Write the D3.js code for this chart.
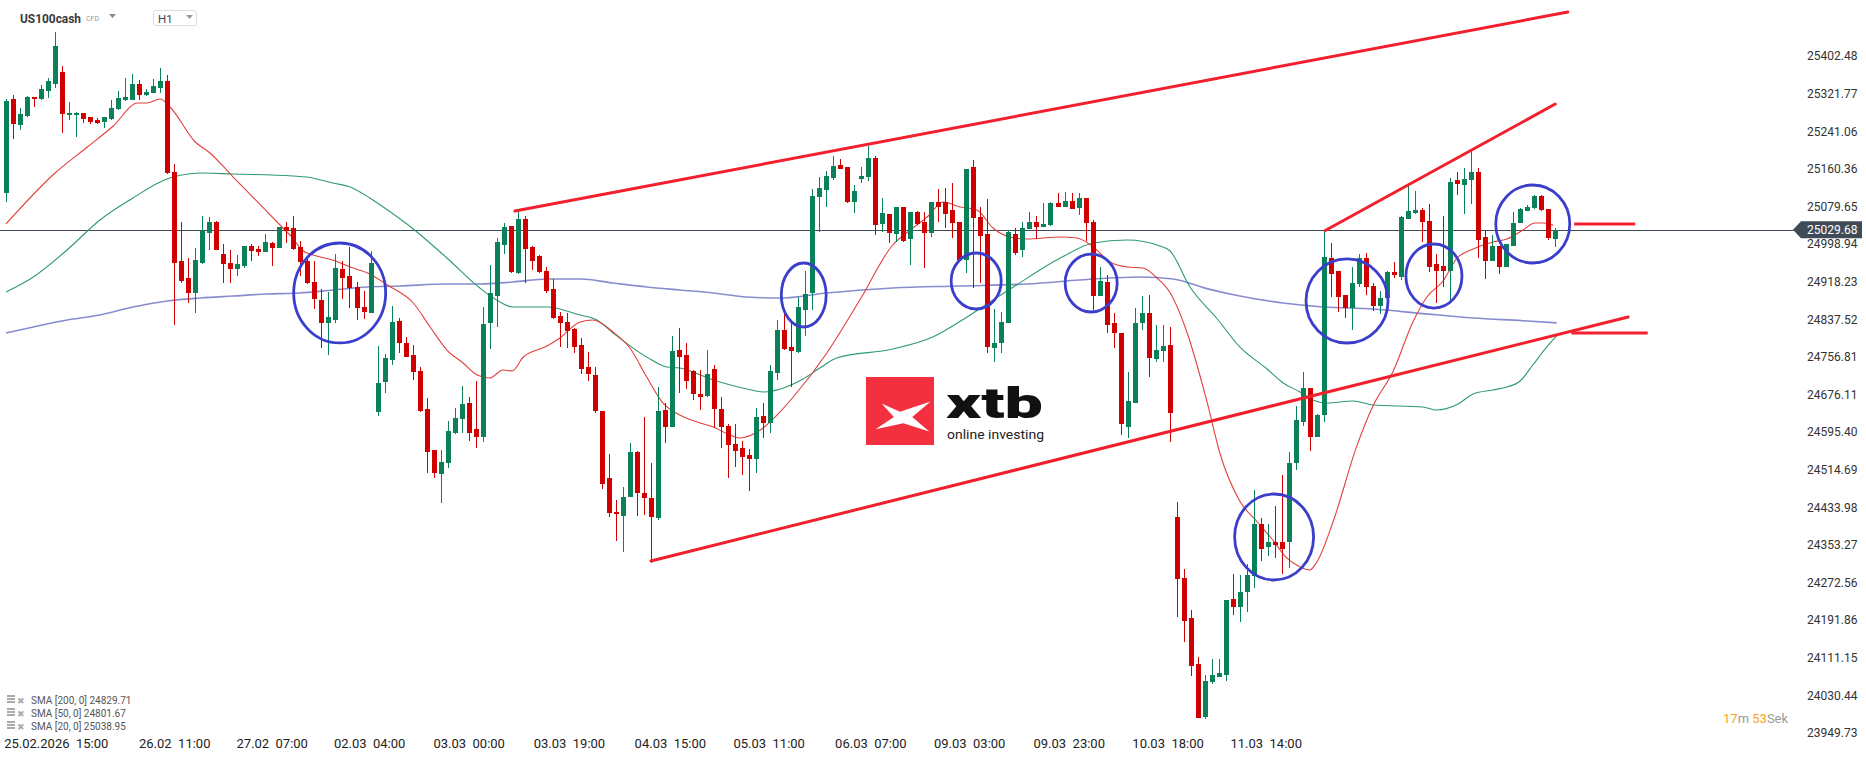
<!DOCTYPE html>
<html><head><meta charset="utf-8">
<script src="https://cdn.jsdelivr.net/npm/d3@7"></script>
<style>
html,body{margin:0;padding:0;background:#fff;overflow:hidden;}
svg{display:block;font-family:Roboto,"Noto Sans",sans-serif;}
</style></head><body>
<svg id="chart" width="1866" height="761"></svg>
<script>
// ---------- DATA ----------
const opens = [25108.4,25310.2,25254.4,25273.7,25314.5,25310.2,25327.4,25342.4,25368.2,25278.0,
25278.0,25280.1,25271.6,25265.1,25260.8,25267.3,25288.7,25308.0,25308.0,25342.4,
25318.8,25323.1,25333.8,25348.8,25153.5,24962.5,24926.0,24893.8,24958.2,25022.6,
25046.2,24977.5,24958.2,24945.3,24951.7,24994.7,24988.2,24981.8,25001.1,24990.4,
25035.4,25033.3,24992.5,24962.5,24917.4,24878.7,24829.4,24835.8,24945.3,24930.3,
24906.7,24863.7,24850.8,24638.3,24702.7,24750.0,24833.7,24786.5,24760.7,24726.3,
24644.8,24556.8,24505.3,24528.9,24593.3,24623.3,24657.7,24601.9,24584.7,24829.4,
24887.3,24996.8,25037.6,24936.7,25052.6,24992.5,24973.2,24941.0,24902.4,24844.4,
24831.5,24816.5,24782.2,24734.9,24717.7,24640.5,24496.7,24423.7,24415.1,24455.9,
24552.5,24464.5,24453.7,24410.8,24642.6,24606.1,24771.4,24760.7,24726.3,24677.0,
24672.7,24730.6,24644.8,24608.3,24569.7,24561.1,24546.0,24537.5,24629.8,24614.7,
24722.1,24814.4,24777.9,24767.1,24857.3,24893.8,25099.8,25114.9,25140.6,25168.5,
25164.2,25089.1,25138.5,25142.8,25183.6,25041.9,25063.3,25020.4,25078.4,25009.7,
25067.6,25046.2,25022.6,25089.1,25089.1,25071.9,25046.2,24964.6,25164.2,25056.9,
25020.4,24775.7,24786.5,24829.4,25020.4,24986.1,25031.2,25046.2,25035.4,25039.7,
25087.0,25078.4,25091.3,25076.2,25097.7,25046.2,24887.3,24917.4,24829.4,24807.9,
24606.1,24657.7,24829.4,24850.8,24752.1,24769.3,24782.2,24413.0,24281.0,24196.2,
24097.4,23984.5,24058.8,24069.5,24073.8,24236.9,24219.8,24252.8,24285.7,24397.9,
24348.6,24359.9,24359.9,24359.3,24528.9,24617.7,24690.5,24585.5,24631.9,24969.8,
24941.4,24890.1,24861.2,24913.1,24969.8,24908.8,24865.0,24884.1,24939.3,24928.6,
25052.6,25065.5,25070.9,25048.3,24956.9,24951.7,24940.9,25136.3,25125.6,25136.3,
25153.5,25014.2,24962.5,24995.1,24949.1,24995.1,25044.7,25069.2,25075.4,25102.2,
25073.6,25010.3];
const closes = [25305.9,25256.5,25278.0,25314.5,25310.2,25331.7,25348.8,25424.0,25278.0,25280.1,
25280.1,25267.3,25260.8,25258.7,25271.6,25290.9,25312.3,25314.5,25342.4,25318.8,
25325.2,25338.1,25348.8,25151.4,24958.2,24919.5,24893.8,24964.6,25026.9,25046.2,
24986.1,24956.0,24945.3,24956.0,24994.7,24983.9,24981.8,25003.2,24990.4,25035.4,
25026.9,24988.2,24960.3,24915.2,24880.9,24829.4,24842.3,24947.4,24926.0,24904.5,
24861.6,24853.0,24958.2,24700.6,24754.3,24831.5,24786.5,24756.4,24724.2,24640.5,
24552.5,24507.4,24531.0,24597.6,24625.5,24655.5,24593.3,24584.7,24827.2,24893.8,
25003.2,25035.4,24938.9,25052.6,24988.2,24962.5,24938.9,24898.1,24840.1,24829.4,
24812.2,24777.9,24730.6,24719.9,24640.5,24483.8,24421.5,24419.4,24455.9,24552.5,
24464.5,24453.7,24413.0,24640.5,24606.1,24769.3,24756.4,24704.9,24677.0,24670.5,
24719.9,24644.8,24606.1,24567.5,24554.6,24541.8,24537.5,24627.6,24614.7,24726.3,
24814.4,24773.6,24769.3,24863.7,24891.6,25102.0,25119.2,25144.9,25166.4,25159.9,
25089.1,25112.7,25144.9,25183.6,25039.7,25065.5,25022.6,25078.4,25005.4,25067.6,
25041.9,25022.6,25089.1,25078.4,25063.3,25044.0,24964.6,25159.9,25054.8,25016.1,
24777.9,24786.5,24831.5,25024.7,24979.6,25033.3,25046.2,25035.4,25041.9,25087.0,
25078.4,25091.3,25074.1,25097.7,25044.0,24887.3,24919.5,24825.1,24807.9,24612.6,
24662.0,24829.4,24850.8,24754.3,24771.4,24780.0,24636.2,24279.9,24189.7,24092.1,
23981.5,24061.4,24073.8,24078.1,24234.8,24219.8,24252.8,24288.5,24397.9,24344.3,
24359.9,24352.9,24344.3,24528.9,24620.1,24689.0,24585.5,24631.9,24972.1,24933.9,
24885.6,24862.6,24914.6,24969.8,24907.1,24865.0,24884.1,24939.3,24931.6,25056.3,
25069.2,25070.9,25046.2,24949.6,24941.6,24941.6,25132.0,25127.7,25138.5,25153.5,
25007.5,24962.5,24995.1,24949.1,24999.0,25044.7,25073.6,25079.2,25102.2,25071.5,
25012.7,25029.68];
const highs = [25310.2,25318.8,25290.9,25316.6,25314.5,25340.2,25355.3,25454.0,25381.0,25303.8,
25282.3,25280.1,25271.6,25269.4,25271.6,25308.0,25327.4,25355.3,25363.9,25351.0,
25331.7,25353.1,25376.7,25361.7,25170.7,25046.2,24968.9,24990.4,25059.1,25056.9,
25048.3,24999.0,24986.1,24975.3,24994.7,24999.0,24994.7,25020.4,25003.2,25035.4,
25046.2,25059.1,25005.4,24971.0,24962.5,24902.4,24895.9,24977.5,24962.5,24992.5,
24917.4,24898.1,24983.9,24780.0,24762.8,24865.9,24840.1,24799.3,24782.2,24734.9,
24668.4,24556.8,24556.8,24619.0,24646.9,24694.2,24670.5,24704.9,24863.7,24953.9,
25011.8,25044.0,25037.6,25071.9,25059.1,24994.7,24975.3,24949.6,24923.8,24853.0,
24850.8,24818.6,24797.2,24767.1,24734.9,24640.5,24548.2,24449.4,24477.4,24571.8,
24554.6,24627.6,24528.9,24692.0,24657.7,24801.5,24818.6,24786.5,24728.5,24728.5,
24771.4,24739.2,24670.5,24612.6,24612.6,24576.1,24558.9,24646.9,24657.7,24739.2,
24835.8,24853.0,24835.8,24885.2,24941.0,25117.0,25142.8,25155.6,25187.8,25181.4,
25164.2,25125.6,25164.2,25209.3,25187.8,25097.7,25063.3,25078.4,25078.4,25067.6,
25069.8,25067.6,25089.1,25117.0,25119.2,25129.9,25046.2,25159.9,25179.3,25078.4,
25095.5,24859.4,24853.0,25029.0,25033.3,25046.2,25067.6,25059.1,25087.0,25089.1,
25108.4,25110.6,25108.4,25108.4,25097.7,25050.5,24949.6,24932.4,24850.8,24807.9,
24724.2,24861.6,24887.3,24889.5,24825.1,24825.1,24820.8,24445.2,24301.3,24212.3,
24112.4,24074.5,24108.2,24109.0,24234.8,24290.6,24288.9,24312.1,24470.9,24410.8,
24397.9,24436.6,24503.1,24552.5,24651.2,24723.3,24690.5,24633.0,25027.9,25000.5,
24941.4,24890.1,24949.1,24977.5,24979.6,24914.6,24898.1,24941.6,24960.7,25060.1,
25125.6,25113.6,25076.2,25084.8,24977.5,25059.1,25140.6,25153.5,25162.1,25200.7,
25162.1,25029.4,25018.3,24995.1,24999.0,25067.6,25076.9,25083.1,25104.6,25104.6,
25073.6,25033.3];
const lows = [25089.1,25224.3,25243.7,25271.6,25293.0,25308.0,25312.3,25333.8,25237.2,25265.1,
25228.6,25258.7,25256.5,25256.5,25247.9,25265.1,25286.6,25305.9,25308.0,25308.0,
25316.6,25323.1,25323.1,25149.2,24825.1,24915.2,24872.3,24850.8,24956.0,24986.1,
24986.1,24915.2,24915.2,24930.3,24947.4,24962.5,24973.2,24981.8,24951.7,24990.4,
25001.1,24986.1,24930.3,24913.1,24859.4,24775.7,24760.7,24829.4,24880.9,24861.6,
24835.8,24838.0,24850.8,24629.8,24679.1,24739.2,24765.0,24756.4,24707.0,24638.3,
24507.4,24496.7,24443.0,24518.1,24591.1,24593.3,24576.1,24561.1,24573.9,24773.6,
24820.8,24977.5,24936.7,24934.6,24915.2,24943.1,24936.7,24893.8,24838.0,24777.9,
24775.7,24765.0,24719.9,24704.9,24636.2,24473.1,24413.0,24361.4,24337.8,24455.9,
24415.1,24417.3,24314.2,24406.5,24571.8,24606.1,24679.1,24687.7,24664.1,24642.6,
24670.5,24604.0,24561.1,24496.7,24520.3,24503.1,24468.8,24507.4,24582.5,24593.3,
24707.0,24771.4,24692.0,24765.0,24801.5,24857.3,25024.7,25078.4,25136.3,25159.9,
25087.0,25065.5,25129.9,25134.2,25018.3,25024.7,25001.1,25003.2,25003.2,24953.9,
25039.7,24947.4,25014.0,25046.2,25033.3,25011.8,24960.3,24936.7,24904.5,24915.2,
24765.0,24745.7,24765.0,24829.4,24975.3,24971.0,25031.2,25009.7,25035.4,25037.6,
25078.4,25078.4,25074.1,25061.2,25005.4,24857.3,24887.3,24807.9,24775.7,24589.0,
24582.5,24657.7,24814.4,24713.5,24745.7,24745.7,24573.9,24198.3,24145.7,24070.6,
23981.5,23979.4,24054.5,24069.5,24060.9,24202.6,24187.6,24209.0,24260.6,24317.9,
24329.2,24325.0,24291.0,24303.5,24513.8,24608.3,24554.6,24585.5,24617.7,24885.2,
24853.4,24839.7,24814.4,24907.1,24890.1,24855.1,24848.7,24884.1,24926.0,24922.5,
25052.6,25063.3,25002.6,24939.3,24872.5,24907.1,24872.3,25104.1,25063.3,25084.8,
24968.9,24923.8,24962.5,24933.9,24949.1,24995.1,25044.0,25069.2,25074.1,25069.2,
25008.0,24992.7];

const sma20Idx = [0,7.0,11.6,15.3,18.8,20.1,22.0,23.4,27.0,29.1,32.4,35.2,39.5,40.9,42.2,43.8,46.6,49.1,51.9,54.4,58.1,60.5,62.9,65.2,67.2,69.0,70.9,72.2,73.8,77.2,79.0,81.9,83.7,86.6,89.0,91.4,93.7,96.1,98.6,100.9,103.3,104.7,107.6,110.4,112.3,117.1,121.8,126.5,129.0,131.4,133.7,136.1,138.5,140.8,143.2,145.6,150.4,152.8,155.1,157.5,159.9,162.2,164.2,166.0,168.5,171.3,173.2,176.0,178.5,180.7,182.7,184.6,186.0,187.0,189.3,192.7,195.0,197.9,200.7,202.7,205.0,207.0,209.3,212.1,214.1,216.4,218.1,219.3,220.7];
const sma20Val = [25041.9,25151.3,25207.1,25252.2,25301.6,25301.6,25310.2,25293.0,25217.9,25194.3,25142.7,25099.8,25033.3,25011.8,24986.1,24975.3,24964.6,24949.6,24934.6,24911.0,24872.3,24820.8,24771.4,24743.6,24717.7,24711.3,24728.5,24726.3,24756.4,24780.0,24797.2,24831.5,24835.8,24810.1,24775.7,24713.5,24657.7,24631.9,24616.9,24606.1,24589.0,24582.5,24599.7,24638.3,24670.5,24765.0,24878.7,24996.8,25029.0,25056.9,25089.1,25078.4,25071.9,25033.3,25014.0,25009.7,25014.0,25011.8,24992.5,24960.3,24949.6,24947.4,24926.0,24895.9,24807.9,24662.0,24548.2,24447.3,24402.2,24363.6,24325.0,24305.6,24299.2,24316.4,24402.2,24565.5,24651.2,24726.3,24831.5,24885.2,24919.5,24968.9,24988.2,25003.2,25009.7,25029.0,25044.0,25044.0,25038.95];
const sma50Idx = [0,3.9,8.7,13.4,18.1,22.0,23.8,28.1,32.4,40.9,42.9,46.6,49.1,51.9,53.4,58.1,62.9,67.6,70.0,72.3,77.2,81.9,84.3,86.6,91.4,94.3,96.1,100.9,105.7,108.0,113.7,116.1,118.5,126.5,132.2,137.1,140.8,143.7,150.4,155.1,159.9,164.6,166.0,168.9,172.8,176.0,179.9,182.2,184.6,186.4,188.4,192.2,195.0,202.1,204.1,207.0,209.3,212.1,214.1,216.0,217.8,219.8,221.2];
const sma50Val = [24895.9,24928.1,24986.1,25050.5,25097.7,25132.0,25142.7,25151.3,25149.2,25144.9,25142.7,25129.9,25121.3,25097.7,25082.6,25031.2,24968.9,24904.5,24878.7,24863.7,24863.7,24846.5,24835.8,24807.9,24756.4,24734.9,24732.8,24707.0,24687.7,24681.3,24709.2,24732.8,24754.3,24773.6,24799.3,24842.3,24878.7,24906.7,24968.9,25001.1,25007.5,24994.7,24985.0,24906.7,24838.0,24777.9,24730.6,24700.6,24681.3,24664.1,24657.7,24662.0,24653.4,24649.1,24642.6,24654.4,24677.0,24685.6,24692.0,24704.9,24739.2,24777.9,24801.67];
const sma200Idx = [0,3.9,8.7,13.4,18.1,23.0,27.7,32.4,37.2,41.9,46.6,51.5,56.2,62.9,67.6,72.3,77.2,81.9,86.6,91.4,96.1,100.9,105.7,110.4,117.1,126.5,136.1,145.6,155.1,161.8,166.5,171.3,176.0,182.2,187.9,195.0,202.1,209.3,216.4,221.2];
const sma200Val = [24807.9,24820.8,24835.8,24846.5,24863.7,24876.6,24883.0,24887.3,24891.6,24893.8,24900.2,24906.7,24908.8,24913.1,24913.1,24917.4,24923.8,24923.8,24915.2,24906.7,24900.2,24893.8,24885.2,24883.0,24893.8,24904.5,24908.8,24913.1,24923.8,24928.1,24923.8,24903.2,24887.3,24872.3,24863.7,24859.4,24849.5,24840.1,24834.3,24829.71];

// trend lines (candle index / price)
const trendIdxA = [72.6, 92.0, 188.2];
const trendPA   = [25069.8, 24318.5, 25027.9];
const trendIdxB = [222.8, 231.4, 221.0];
const trendPB   = [25496.9, 24842.3, 25299.4];
// short level markers
const markP = [25041.9, 24807.9];
const markIdxA = [223.7, 223.3];
const markIdxB = [232.4, 234.2];
// highlight circles: centre (index, price), radii (candles, price)
const circIdx = [47.6,113.8,138.4,154.8,180.9,191.3,203.7,217.8];
const circP   = [24893.8,24889.5,24919.5,24915.2,24370.0,24876.6,24930.2,25041.9];
const circRx  = [6.56,3.2,3.57,3.71,5.63,5.85,4.0,5.28];
const circRy  = [107.3,68.7,60.1,62.2,92.3,90.2,68.7,83.7];

const yTicks = [25402.48,25321.77,25241.06,25160.36,25079.65,24998.94,24918.23,24837.52,24756.81,24676.11,24595.40,24514.69,24433.98,24353.27,24272.56,24191.86,24111.15,24030.44,23949.73];
const xTickIdx = [7.1,24.0,37.9,51.8,66.0,80.3,94.7,108.8,123.3,137.4,151.6,165.7,179.7];
const xTickLabels = ["25.02.2026  15:00","26.02  11:00","27.02  07:00","02.03  04:00","03.03  00:00","03.03  19:00","04.03  15:00","05.03  11:00","06.03  07:00","09.03  03:00","09.03  23:00","10.03  18:00","11.03  14:00"];
const lastPrice = 25029.68;
const legendNames = ["SMA [200, 0]","SMA [50, 0]","SMA [20, 0]"];
const legendVals = [24829.71,24801.67,25038.95];

// ---------- DRAW ----------
const svg = d3.select("#chart");
const x = d3.scaleLinear().domain([0, 221]).range([6, 6 + 221 * 7.01]);
const y = d3.scaleLinear().domain([23949.73, 25402.48]).range([732.8, 56]);

const UP = "#0a8158", DOWN = "#d10000";

// price line
svg.append("line").attr("x1", 0).attr("x2", 1795)
  .attr("y1", Math.round(y(lastPrice)) + 0.5).attr("y2", Math.round(y(lastPrice)) + 0.5)
  .attr("stroke", "#3f4c57").attr("stroke-width", 1);

// SMA lines
const mkLine = d3.line().x(d => x(d[0])).y(d => y(d[1])).curve(d3.curveMonotoneX);
const smaSets = [
  {idx: sma200Idx, val: sma200Val, col: "#7b7fca", w: 1.6, op: 0.9},
  {idx: sma50Idx, val: sma50Val, col: "#2f9a70", w: 1.1, op: 1},
  {idx: sma20Idx, val: sma20Val, col: "#e2403b", w: 1.1, op: 1}
];
smaSets.forEach(s => {
  svg.append("path").datum(s.idx.map((d, i) => [d, s.val[i]]))
    .attr("d", mkLine).attr("fill", "none").attr("stroke", s.col)
    .attr("stroke-width", s.w).attr("opacity", s.op);
});

// candles
const candles = opens.map((o, i) => ({i, o, c: closes[i], h: highs[i], l: lows[i]}));
const cg = svg.append("g").attr("shape-rendering", "crispEdges");
cg.selectAll("line.w").data(candles).join("line")
  .attr("x1", d => Math.round(x(d.i)) + 0.5).attr("x2", d => Math.round(x(d.i)) + 0.5)
  .attr("y1", d => y(d.h)).attr("y2", d => y(d.l))
  .attr("stroke", d => d.c >= d.o ? UP : DOWN).attr("stroke-width", 1);
cg.selectAll("rect.b").data(candles).join("rect")
  .attr("x", d => Math.round(x(d.i)) - 2).attr("width", 5)
  .attr("y", d => y(Math.max(d.o, d.c)))
  .attr("height", d => Math.max(1.5, Math.abs(y(d.o) - y(d.c))))
  .attr("fill", d => d.c >= d.o ? UP : DOWN);

// trend lines
trendIdxA.forEach((a, k) => {
  svg.append("line").attr("x1", x(a)).attr("y1", y(trendPA[k]))
    .attr("x2", x(trendIdxB[k])).attr("y2", y(trendPB[k]))
    .attr("stroke", "#f21f2c").attr("stroke-width", 3).attr("stroke-linecap", "round");
});
markP.forEach((p, k) => {
  svg.append("line").attr("x1", x(markIdxA[k])).attr("x2", x(markIdxB[k]))
    .attr("y1", y(p)).attr("y2", y(p))
    .attr("stroke", "#f21f2c").attr("stroke-width", 3.2);
});

// circles
circIdx.forEach((ci, k) => {
  svg.append("ellipse").attr("cx", x(ci)).attr("cy", y(circP[k]))
    .attr("rx", x(ci + circRx[k]) - x(ci)).attr("ry", y(circP[k] - circRy[k]) - y(circP[k]))
    .attr("fill", "none").attr("stroke", "#3a3ecb").attr("stroke-width", 2.8);
});

// y axis
const yAxis = d3.axisRight(y).tickValues(yTicks).tickFormat(d3.format(".2f")).tickSize(0).tickPadding(0);
const ya = svg.append("g").attr("transform", "translate(1807,0)").call(yAxis);
ya.select(".domain").remove();
ya.selectAll("text").attr("font-size", 12).attr("fill", "#333").attr("font-family", "Roboto");

// last price tag
const py = y(lastPrice);
svg.append("path")
  .attr("d", `M1793,${py} L1801,${py - 8.5} L1862,${py - 8.5} L1862,${py + 8.5} L1801,${py + 8.5} Z`)
  .attr("fill", "#3f4c57");
svg.append("text").attr("x", 1807).attr("y", py + 4.3).attr("fill", "#fff")
  .attr("font-size", 12).attr("font-family", "Roboto").text(d3.format(".2f")(lastPrice));

// x axis
const xAxis = d3.axisBottom(x).tickValues(xTickIdx).tickFormat((d, i) => xTickLabels[i]).tickSize(0).tickPadding(0);
const xa = svg.append("g").attr("transform", "translate(0,739)").call(xAxis);
xa.select(".domain").remove();
xa.selectAll("text").attr("font-size", 13).attr("fill", "#222").attr("font-family", "Roboto")
  .style("white-space", "pre");

// header
svg.append("text").attr("x", 20).attr("y", 23).attr("font-size", 13.5).attr("font-weight", "bold")
  .attr("fill", "#3a3a3a").attr("textLength", 61).attr("lengthAdjust", "spacingAndGlyphs").text("US100cash");
svg.append("text").attr("x", 86).attr("y", 21).attr("font-size", 7).attr("fill", "#999").text("CFD");
svg.append("path").attr("d", "M109,14 L116,14 L112.5,18 Z").attr("fill", "#888");
svg.append("rect").attr("x", 153.5).attr("y", 10.5).attr("width", 43).attr("height", 15).attr("rx", 2)
  .attr("fill", "#fff").attr("stroke", "#ddd");
svg.append("text").attr("x", 158).attr("y", 22.5).attr("font-size", 11.5).attr("fill", "#444").text("H1");
svg.append("path").attr("d", "M186,15 L193,15 L189.5,19 Z").attr("fill", "#999");

// legend bottom-left
const legY = [700, 713, 726];
legendNames.forEach((n, k) => {
  const g = svg.append("g").attr("transform", `translate(0,${legY[k]})`);
  g.append("rect").attr("x", 7).attr("y", -5).attr("width", 8).attr("height", 2).attr("fill", "#aaa");
  g.append("rect").attr("x", 7).attr("y", -2).attr("width", 8).attr("height", 2).attr("fill", "#aaa");
  g.append("rect").attr("x", 7).attr("y", 1).attr("width", 8).attr("height", 2).attr("fill", "#aaa");
  g.append("text").attr("x", 17).attr("y", 3.5).attr("font-size", 9).attr("fill", "#aaa").text("\u2716");
  g.append("text").attr("x", 31).attr("y", 3.5).attr("font-size", 10).attr("fill", "#555")
    .text(n + " " + d3.format(".2f")(legendVals[k]));
});

// timer
const tm = svg.append("text").attr("x", 1723).attr("y", 723).attr("font-size", 13).attr("font-family", "Roboto");
tm.append("tspan").attr("fill", "#f5a623").text("17");
tm.append("tspan").attr("fill", "#9a9a9a").text("m ");
tm.append("tspan").attr("fill", "#f5a623").text("53");
tm.append("tspan").attr("fill", "#9a9a9a").text("Sek");

// xtb logo
const lg = svg.append("g").attr("transform", "translate(866,377)");
lg.append("rect").attr("width", 68).attr("height", 68).attr("fill", "#f2303f");
const xs = [[0.23,0.39],[0.50,0.51],[0.95,0.36],[0.68,0.59],[0.93,0.80],[0.55,0.68],[0.14,0.77],[0.41,0.59]];
lg.append("polygon").attr("points", xs.map(p => [p[0] * 68, p[1] * 68].join(",")).join(" ")).attr("fill", "#fff");
lg.append("text").attr("x", 80).attr("y", 41).attr("font-size", 42).attr("font-weight", 900)
  .attr("font-family", "Roboto").attr("fill", "#111").attr("textLength", 97).attr("lengthAdjust", "spacingAndGlyphs").text("xtb");
lg.append("text").attr("x", 81).attr("y", 62).attr("font-size", 13).attr("font-family", "Roboto")
  .attr("fill", "#222").attr("textLength", 97).attr("lengthAdjust", "spacingAndGlyphs").text("online investing");
</script>
</body></html>
